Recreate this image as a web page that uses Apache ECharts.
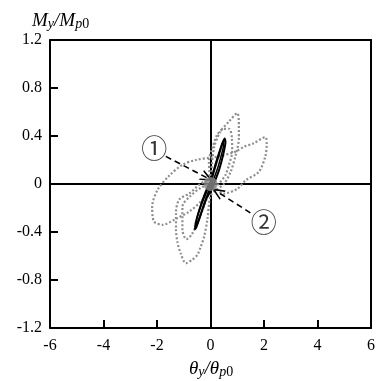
<!DOCTYPE html>
<html><head><meta charset="utf-8">
<script src="https://cdn.jsdelivr.net/npm/echarts@6/dist/echarts.min.js"></script>
<style>html,body{margin:0;padding:0;background:#fff}#c{width:378px;height:381px}</style>
</head><body><div id="c"></div>
<script>
var xTicks = [-6, -4, -2, 0, 2, 4, 6];
var yTicks = [-1.2, -0.8, -0.4, 0, 0.4, 0.8, 1.2];

// solid black loop (case 1)
var loopBlack = [[0,0],[0.12,0.1],[0.24,0.19],[0.35,0.27],[0.45,0.34],[0.53,0.38],[0.56,0.35],[0.5,0.27],[0.4,0.18],[0.28,0.09],[0.12,0],[0,-0.06],[-0.15,-0.12],[-0.28,-0.2],[-0.42,-0.29],[-0.53,-0.36],[-0.58,-0.38],[-0.56,-0.33],[-0.46,-0.25],[-0.34,-0.17],[-0.2,-0.09],[-0.08,-0.03],[0,0]];
var loopBlack2 = [[0,0.02],[0.16,0.15],[0.3,0.25],[0.42,0.33],[0.5,0.37],[0.48,0.31],[0.38,0.22],[0.25,0.12],[0.1,0.03],[-0.05,-0.05],[-0.22,-0.15],[-0.38,-0.26],[-0.5,-0.34],[-0.52,-0.3],[-0.4,-0.2],[-0.25,-0.1],[-0.1,-0.02],[0,0.02]];

// dotted gray loops (case 2)
var loopWide = [[0,0],[0.5,-0.08],[1.0,-0.04],[1.31,0.03],[1.8,0.1],[2.05,0.23],[2.1,0.33],[2.05,0.39],[1.62,0.34],[1.25,0.31],[0.94,0.27],[0.32,0.23],[0,0.22],[-0.55,0.2],[-1.05,0.16],[-1.54,0.07],[-1.98,-0.05],[-2.18,-0.19],[-2.12,-0.31],[-1.79,-0.34],[-1.29,-0.29],[-0.8,-0.23],[-0.3,-0.13],[0,0]];
var loopTall = [[0,0],[0.13,0.3],[0.38,0.44],[0.69,0.52],[1.0,0.59],[1.06,0.49],[1.06,0.38],[0.94,0.24],[0.75,0.1],[0.5,0.0],[0.2,-0.05],[0,-0.1],[-0.12,-0.3],[-0.24,-0.44],[-0.36,-0.52],[-0.49,-0.59],[-0.68,-0.63],[-0.92,-0.66],[-1.11,-0.58],[-1.23,-0.49],[-1.29,-0.38],[-1.29,-0.24],[-1.17,-0.13],[-0.8,-0.08],[-0.18,0.02],[0,0]];
var loopMid = [[0,0],[-0.06,0.19],[0.07,0.3],[0.25,0.41],[0.5,0.46],[0.7,0.46],[0.8,0.38],[0.81,0.27],[0.69,0.16],[0.56,0.075],[0.3,0],[0,-0.05],[-0.2,-0.16],[-0.45,-0.3],[-0.7,-0.42],[-0.9,-0.46],[-1.05,-0.38],[-1.05,-0.19],[-0.75,-0.1],[-0.35,-0.03],[0,0]];

var originPoint = [[0, 0]];
var arrow1 = [[-1.67, 0.23], [-0.12, 0.05]];
var arrow2 = [[1.49, -0.24], [0.25, -0.064]];
var label1 = [[-2.1, 0.3]];
var label2 = [[1.99, -0.32]];

var font = '"Liberation Serif", "Times New Roman", serif';
var chevron = 'path://M0,12 L6,0 L12,12 L10.2,12 L6,4 L1.8,12 Z';

var xMin = xTicks[0], xMax = xTicks[xTicks.length - 1];
var yMin = yTicks[0], yMax = yTicks[yTicks.length - 1];
// inward tick length (8px) expressed in each axis' units
var tickLenY = (yMax - yMin) * 8 / 288;
var tickLenX = (xMax - xMin) * 8 / 322;
var tickMarks = [];
xTicks.slice(1, -1).forEach(function (v) {
  if (v !== 0) tickMarks.push([{ coord: [v, yMin] }, { coord: [v, yMin + tickLenY] }]);
});
yTicks.slice(1, -1).forEach(function (v) {
  if (v !== 0) tickMarks.push([{ coord: [xMin, v] }, { coord: [xMin + tickLenX, v] }]);
});

var chart = echarts.init(document.getElementById('c'));
function dotted(data) {
  return { type: 'line', data: data, showSymbol: false, symbol: 'none', smooth: 0.3, silent: true,
    lineStyle: { color: '#8e8e8e', width: 2.2, type: [2, 2] }, z: 3 };
}
function arrowLine(pts) {
  return [{ coord: pts[0], symbol: 'none' }, { coord: pts[1], symbol: chevron, symbolSize: [11, 13] }];
}
var richSet = {
  m: { fontFamily: font, fontStyle: 'italic', fontSize: 19, lineHeight: 20, fill: '#000', verticalAlign: 'top' },
  s: { fontFamily: font, fontStyle: 'italic', fontSize: 14, lineHeight: 14, fill: '#000', verticalAlign: 'bottom' },
  n: { fontFamily: font, fontSize: 14, lineHeight: 14, fill: '#000', verticalAlign: 'bottom' }
};
function fmt(v) { return String(Math.round(v * 10) / 10); }
function mainAxis(ticks, iv, pos, margin) {
  return { type: 'value', position: pos, min: ticks[0], max: ticks[ticks.length - 1], interval: iv,
    axisLine: { show: true, onZero: false, lineStyle: { color: '#000', width: 2 } }, splitLine: { show: false },
    axisTick: { show: true, inside: true, length: 8, lineStyle: { color: '#000', width: 2 } },
    axisLabel: { color: '#000', fontFamily: font, fontSize: 16, margin: margin, formatter: fmt } };
}
function frameAxis(ticks, iv, pos) {
  return { type: 'value', position: pos, min: ticks[0], max: ticks[ticks.length - 1], interval: iv,
    axisLine: { show: true, onZero: false, lineStyle: { color: '#000', width: 2 } }, splitLine: { show: false },
    axisTick: { show: false }, axisLabel: { show: false } };
}
chart.setOption({
  animation: false,
  grid: { left: 50, right: 6, top: 40, bottom: 53 },
  xAxis: [mainAxis(xTicks, 2, 'bottom', 10), frameAxis(xTicks, 2, 'top')],
  yAxis: [mainAxis(yTicks, 0.4, 'left', 8), frameAxis(yTicks, 0.4, 'right')],
  graphic: [
    { type: 'text', left: 32, top: 11, style: { text: '{m|M}{s|y}{m|/M}{s|p}{n|0}', rich: richSet } },
    { type: 'text', left: 189, top: 359, style: { text: '{m|θ}{s|y}{m|/θ}{s|p}{n|0}', rich: richSet } }
  ],
  series: [
    dotted(loopWide), dotted(loopTall), dotted(loopMid),
    { type: 'line', data: loopBlack, showSymbol: false, symbol: 'none', smooth: 0.2, silent: true,
      lineStyle: { color: '#000', width: 2 }, z: 4,
      markLine: { silent: true, animation: false, label: { show: false },
        lineStyle: { color: '#000', width: 1.6, type: [6, 4] },
        data: [arrowLine(arrow1), arrowLine(arrow2)] } },
    { type: 'line', data: loopBlack2, showSymbol: false, symbol: 'none', smooth: 0.2, silent: true,
      lineStyle: { color: '#000', width: 1.5 }, z: 4,
      markLine: { silent: true, symbol: 'none', animation: false, label: { show: false },
        lineStyle: { color: '#000', width: 2, type: 'solid' }, data: tickMarks } },
    { type: 'scatter', data: originPoint, symbolSize: 14, itemStyle: { color: '#888' }, silent: true, z: 5,
      markLine: { silent: true, symbol: 'none', animation: false, z: 2,
        label: { show: false }, lineStyle: { color: '#000', width: 2, type: 'solid' },
        data: [{ xAxis: 0 }, { yAxis: 0 }] } },
    { type: 'scatter', data: label1.concat(label2), symbolSize: 1, itemStyle: { color: 'transparent' }, silent: true,
      label: { show: true, position: 'inside', color: '#000', fontFamily: '"Noto Sans CJK JP"', fontSize: 26,
        formatter: function (p) { return p.dataIndex === 0 ? '①' : '②'; } }, z: 6 }
  ]
});
</script></body></html>
